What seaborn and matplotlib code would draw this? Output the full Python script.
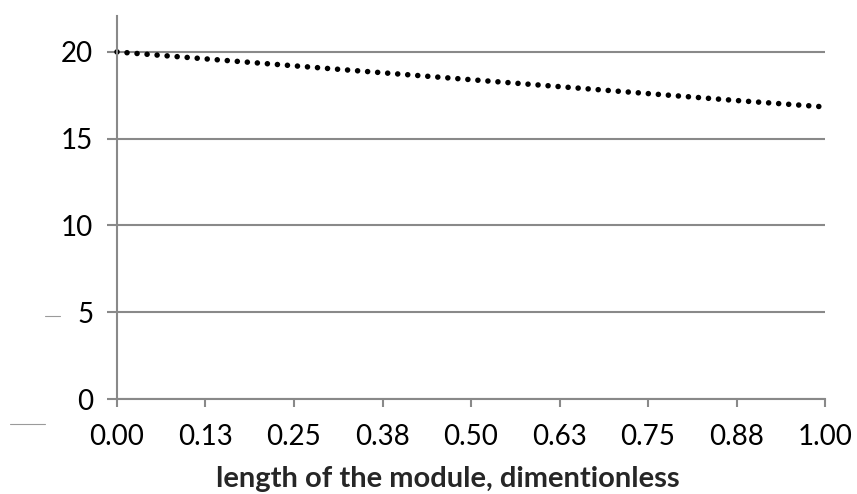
import numpy as np
import pandas as pd
import seaborn as sns
import matplotlib
matplotlib.use('Agg')
import matplotlib.pyplot as plt
from matplotlib.lines import Line2D

# values
length = [0.0, 0.125, 0.25, 0.375, 0.5, 0.625, 0.75, 0.875, 1.0]
value = [20.0, 19.6, 19.2, 18.8, 18.4, 18.0, 17.6, 17.2, 16.83]
xticks = [0.0, 0.125, 0.25, 0.375, 0.5, 0.625, 0.75, 0.875, 1.0]
xtick_labels = ['0.00', '0.13', '0.25', '0.38', '0.50', '0.63', '0.75', '0.88', '1.00']
yticks = [0, 5, 10, 15, 20]

df = pd.DataFrame({'length': length, 'value': value})

sns.set_style('white')
plt.rcParams['font.family'] = ['Lato', 'DejaVu Sans']

gray = '#898989'

fig = plt.figure(figsize=(8.57, 4.94), dpi=100)
ax = fig.add_axes([0.1365, 0.1923, 0.8262, 0.7753])

sns.lineplot(data=df, x='length', y='value', ax=ax, color='black',
             linewidth=4.0, linestyle=(0, (0.01, 1.8)), clip_on=False)
for l in ax.lines:
    l.set_dash_capstyle('round')

ax.set_xlim(0, 1)
ax.set_ylim(0, 22.07)
ax.set_xticks(xticks)
ax.set_xticklabels(xtick_labels)
ax.set_yticks(yticks)

ax.grid(axis='y', color=gray, linewidth=1.5)
ax.set_axisbelow(True)
for s in ['top', 'right']:
    ax.spines[s].set_visible(False)
for s in ['left', 'bottom']:
    ax.spines[s].set_color(gray)
    ax.spines[s].set_linewidth(1.5)

ax.tick_params(axis='both', which='major', direction='out', color=gray,
               width=1.5, labelsize=20, labelcolor='black')
ax.tick_params(axis='y', length=7, pad=10)
ax.tick_params(axis='x', length=6, pad=12)
ax.tick_params(bottom=True, left=True)

ax.set_xlabel('length of the module, dimentionless', fontsize=21,
              fontweight='bold')
ax.xaxis.set_label_coords(0.4675, -0.21)
ax.xaxis.label.set_va('center')
ax.set_ylabel('')

# small stray marks at the left edge of the reference
fig.add_artist(Line2D([45 / 857, 60 / 857], [1 - 316 / 494, 1 - 316 / 494],
                      color='#9a9a9a', linewidth=0.8))
fig.add_artist(Line2D([10 / 857, 45 / 857], [1 - 424 / 494, 1 - 424 / 494],
                      color='#9a9a9a', linewidth=0.8))

fig.savefig('out.png', dpi=100)
